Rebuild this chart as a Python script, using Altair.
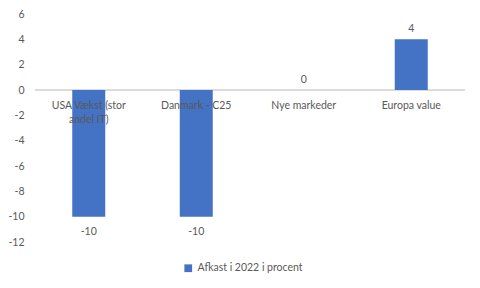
import altair as alt
import pandas as pd

categories = ["USA Vækst (stor\nandel IT)", "Danmark - C25", "Nye markeder", "Europa value"]
values = [-10, -10, 0, 4]
series_name = "Afkast i 2022 i procent"
y_ticks = [-12, -10, -8, -6, -4, -2, 0, 2, 4, 6]

df = pd.DataFrame({
    "cat": categories,
    "value": values,
    "series": [series_name] * len(categories),
    "zero": [0] * len(categories),
})

FONT = "Lato"
GRAY = "#595959"
BLUE = "#4472C4"

x = alt.X("cat:N", sort=categories, axis=None,
          scale=alt.Scale(paddingInner=0, paddingOuter=0))

y_scale = alt.Scale(domain=[-12, 6], nice=False, zero=False)
y_axis = alt.Axis(values=y_ticks, tickCount=10, grid=False, domain=False,
                  ticks=False, labelPadding=11, labelFont=FONT,
                  labelFontSize=10.5, labelColor=GRAY, title=None,
                  labelOverlap=False, labelExpr="toString(datum.value)")


def yv(field):
    return alt.Y(field, scale=y_scale, axis=y_axis)


zero_line = alt.Chart(df).mark_rule(color="#d9d9d9", strokeWidth=1).encode(
    y=yv("zero:Q"),
)

bars = alt.Chart(df).mark_bar(width=33).encode(
    x=x,
    y=yv("value:Q"),
    color=alt.Color("series:N", scale=alt.Scale(range=[BLUE]),
                    legend=alt.Legend(title=None, orient="none", legendX=148, legendY=249,
                                      symbolType="square", symbolSize=60,
                                      labelFont=FONT, labelFontSize=10.5,
                                      labelColor=GRAY, symbolStrokeWidth=0)),
)

cat_labels = alt.Chart(df).mark_text(
    baseline="top", dy=11, font=FONT, fontSize=10.5, color=GRAY, lineBreak="\n", lineHeight=14
).encode(x=x, y=yv("zero:Q"), text="cat:N")

neg_labels = alt.Chart(df).transform_filter("datum.value < 0").transform_calculate(
    lbl="toString(datum.value)"
).mark_text(
    baseline="top", dy=10, font=FONT, fontSize=10.5, color=GRAY
).encode(x=x, y=yv("value:Q"), text="lbl:N")

pos_labels = alt.Chart(df).transform_filter("datum.value >= 0").transform_calculate(
    lbl="toString(datum.value)"
).mark_text(
    baseline="bottom", dy=-5, font=FONT, fontSize=10.5, color=GRAY
).encode(x=x, y=yv("value:Q"), text="lbl:N")

chart = alt.layer(zero_line, bars, cat_labels, neg_labels, pos_labels).properties(
    width=430, height=228,
    padding={"left": 35, "top": 14, "right": 15, "bottom": 46},
    autosize=alt.AutoSizeParams(type="none"),
    background="white",
).configure_view(stroke=None)

chart.save("out.html", embed_options={"renderer": "svg", "actions": False})
